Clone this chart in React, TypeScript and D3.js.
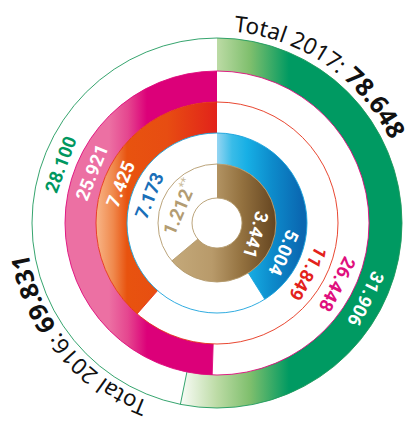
import React from "react";
import * as d3 from "d3";

// ---- data ----
const rings = ["outer", "second", "third", "fourth", "inner"];
const values2017 = [31906, 26448, 11849, 5004, 3441];
const values2016 = [28100, 25921, 7425, 7173, 1212];
// which year's arc is drawn filled in each ring
const filledYear = [2017, 2016, 2016, 2017, 2017];
// 2016 inner ring value as its arc is drawn (footnoted value **)
const drawn2016 = [28100, 25921, 7425, 7173, 1945];
const footnote2016 = ["", "", "", "", "**"];
const totalLabels = ["Total 2017: ", "Total 2016: "];

// ---- style ----
const W = 405;
const H = 421;
const CX = 217;
const CY = 223;
const radii = [185, 152, 121, 90, 59, 25];
const ringColors = ["#1f9a5e", "#de0a7c", "#e5321a", "#1aa3dc", "#b39a6c"];
const labelColors = ["#00975f", "#df0f7d", "#e3221b", "#1a6fb8", "#b39c72"];
const gradients: [number, string][][] = [
  [[-34, "#f6faf3"], [0, "#bcdba5"], [33, "#7fbf6d"], [72, "#009a62"]],
  [[-108, "#ec70a3"], [-89, "#e5468f"], [-70, "#dc0079"]],
  [[-121, "#f8b688"], [-104, "#f08a4e"], [-90, "#e8530f"], [-50, "#e74d12"], [0, "#e2221a"]],
  [[0, "#95d5f2"], [15, "#3abce8"], [30, "#17afe5"], [55, "#0d8bcb"], [85, "#0a67b1"]],
  [[-45, "#c4a97a"], [-5, "#b89a6a"], [25, "#93713f"], [58, "#664621"]],
];
const labelAngleRight = [117, 117, 119, 114, 107];
const labelAngleLeft = [290.5, 292, 292, 292, 293];

const fmt = d3.formatLocale({ decimal: ",", thousands: ".", grouping: [3], currency: ["", "€"] }).format(",d");
const rad = (deg: number) => (deg * Math.PI) / 180;
const pt = (r: number, deg: number) => [r * Math.sin(rad(deg)), -r * Math.cos(rad(deg))];

export default function App() {
  const arcGen = d3.arc<any>();
  const shares = rings.map((_, i) => values2017[i] / (values2017[i] + drawn2016[i]));
  const total2017 = d3.sum(values2017);
  const total2016 = d3.sum(values2016);

  const textArc = (r: number, a0: number, a1: number) => {
    const [x0, y0] = pt(r, a0);
    const [x1, y1] = pt(r, a1);
    return `M${x0},${y0} A${r},${r} 0 0 1 ${x1},${y1}`;
  };

  return (
    <svg width={W} height={H} style={{ position: "absolute", left: 0, top: 0, background: "#fff" }}>
      <defs>
        {gradients.map((g, i) => {
          const x1 = g[0][0];
          const x2 = g[g.length - 1][0];
          return (
            <linearGradient key={i} id={`g${i}`} gradientUnits="userSpaceOnUse" x1={x1} x2={x2} y1={0} y2={0}>
              {g.map(([x, c], j) => (
                <stop key={j} offset={(x - x1) / (x2 - x1)} stopColor={c} />
              ))}
            </linearGradient>
          );
        })}
        <path id="tp2017" d={textArc(192, 5, 140)} />
        <path id="tp2016" d={textArc(191, 201, 336)} />
      </defs>
      <g transform={`translate(${CX},${CY})`}>
        {rings.map((k, i) => {
          const ro = radii[i];
          const ri = radii[i + 1];
          const s = shares[i] * 2 * Math.PI;
          const d =
            filledYear[i] === 2017
              ? arcGen({ innerRadius: ri, outerRadius: ro, startAngle: 0, endAngle: s })
              : arcGen({ innerRadius: ri, outerRadius: ro, startAngle: s - 2 * Math.PI, endAngle: 0 });
          return <path key={k} d={d as string} fill={`url(#g${i})`} />;
        })}
        {rings.map((k, i) => {
          const ro = radii[i];
          const ri = radii[i + 1];
          const endDeg = shares[i] * 360;
          const [xa, ya] = pt(ri, endDeg);
          const [xb, yb] = pt(ro, endDeg);
          return (
            <g key={k}>
              <circle r={ro} fill="none" stroke={ringColors[i]} strokeWidth={0.9} />
              <line x1={xa} y1={ya} x2={xb} y2={yb} stroke={ringColors[i]} strokeWidth={0.9} />
            </g>
          );
        })}
        <circle r={radii[5]} fill="none" stroke={ringColors[4]} strokeWidth={0.9} />
        {rings.map((k, i) => {
          const r = (radii[i] + radii[i + 1]) / 2 - 2;
          const right = pt(r, labelAngleRight[i]);
          const left = pt(r, labelAngleLeft[i]);
          const c17 = filledYear[i] === 2017 ? "#fff" : labelColors[i];
          const c16 = filledYear[i] === 2016 ? "#fff" : labelColors[i];
          return (
            <g key={k} fontFamily="Roboto, sans-serif" fontWeight={700} fontSize={18.5}>
              <text
                transform={`translate(${right[0]},${right[1]}) rotate(${labelAngleRight[i]})`}
                textAnchor="middle"
                dominantBaseline="central"
                fill={c17}
              >
                {fmt(values2017[i])}
              </text>
              <text
                transform={`translate(${left[0]},${left[1]}) rotate(${labelAngleLeft[i]})`}
                textAnchor="middle"
                dominantBaseline="central"
                fill={c16}
              >
                {fmt(values2016[i])}
                {footnote2016[i] ? (
                  <tspan fontSize={12} fontWeight={400} dy={-6} fill="#cbbc9c">
                    {footnote2016[i]}
                  </tspan>
                ) : null}
              </text>
            </g>
          );
        })}
        <text fontFamily="'Noto Sans', sans-serif" fill="#111">
          <textPath href="#tp2017">
            <tspan fontSize={22.5}>{totalLabels[0]}</tspan>
            <tspan fontSize={25} fontWeight={700}>{fmt(total2017)}</tspan>
          </textPath>
        </text>
        <text fontFamily="'Noto Sans', sans-serif" fill="#111">
          <textPath href="#tp2016">
            <tspan fontSize={22.5}>{totalLabels[1]}</tspan>
            <tspan fontSize={25} fontWeight={700}>{fmt(total2016)}</tspan>
          </textPath>
        </text>
      </g>
    </svg>
  );
}
